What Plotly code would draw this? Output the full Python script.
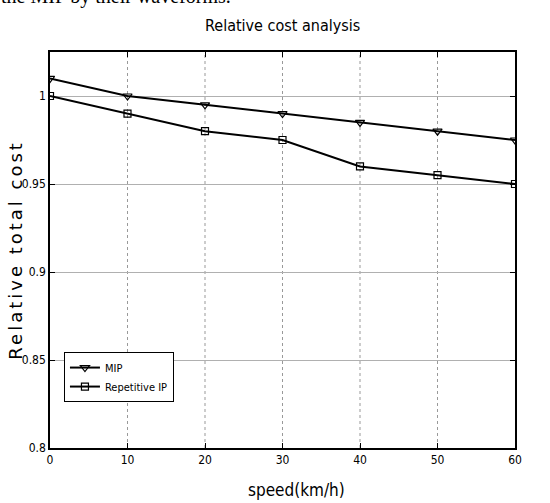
import plotly.graph_objects as go

speed = [0, 10, 20, 30, 40, 50, 60]
mip = [1.01, 1.0, 0.995, 0.99, 0.985, 0.98, 0.975]
rep_ip = [1.0, 0.99, 0.98, 0.975, 0.96, 0.955, 0.95]
x_ticks = [0, 10, 20, 30, 40, 50, 60]
y_ticks = [0.8, 0.85, 0.9, 0.95, 1.0]
y_tick_text = ["0.8", "0.85", "0.9", "0.95", "1"]

NARROW = "Liberation Sans Narrow, Arial Narrow, DejaVu Sans Condensed, sans-serif"
WIDE = "DejaVu Sans, Verdana, sans-serif"

fig = go.Figure()
fig.add_trace(go.Scatter(
    x=speed, y=mip, name="MIP", mode="lines+markers",
    line=dict(color="black", width=2),
    marker=dict(symbol="triangle-down-open", size=8, color="black", line=dict(width=1.2)),
))
fig.add_trace(go.Scatter(
    x=speed, y=rep_ip, name="Repetitive IP", mode="lines+markers",
    line=dict(color="black", width=2),
    marker=dict(symbol="square-open", size=7, color="black", line=dict(width=1.2)),
))

# vertical dotted grid lines
for xv in x_ticks[1:-1]:
    fig.add_shape(type="line", xref="x", yref="paper", x0=xv, x1=xv, y0=0, y1=1,
                  line=dict(color="#999999", width=1, dash="dot"), layer="below")

fig.update_layout(
    width=550, height=503,
    margin=dict(l=50, r=35, t=52, b=55, autoexpand=False),
    paper_bgcolor="white", plot_bgcolor="white",
    showlegend=True,
    legend=dict(x=0.03, y=0.116, xanchor="left", yanchor="bottom",
                bordercolor="black", borderwidth=1, bgcolor="white",
                font=dict(family=NARROW, size=11, color="black"),
                tracegroupgap=0, itemwidth=30),
    xaxis=dict(range=[0, 60], tickvals=x_ticks, showgrid=False, zeroline=False,
               showline=True, linecolor="black", linewidth=1.5, mirror="ticks",
               ticks="inside", ticklen=5, tickcolor="black", automargin=False,
               tickfont=dict(family=NARROW, size=12, color="black")),
    yaxis=dict(range=[0.8, 1.025], tickvals=y_ticks, ticktext=y_tick_text,
               showgrid=True, gridcolor="#b0b0b0", gridwidth=1, zeroline=False,
               showline=True, linecolor="black", linewidth=1.5, mirror="ticks",
               ticks="inside", ticklen=5, tickcolor="black", automargin=False,
               tickfont=dict(family=NARROW, size=12, color="black")),
    font=dict(color="black"),
)

# titles as annotations (pixel-matched placement)
fig.add_annotation(text="Relative cost analysis", xref="paper", yref="paper",
                   x=0.50, y=1.067, xanchor="center", yanchor="middle", showarrow=False,
                   font=dict(family=NARROW, size=16, color="black"))
fig.add_annotation(text="speed(km/h)", xref="paper", yref="paper",
                   x=0.53, y=-0.105, xanchor="center", yanchor="middle", showarrow=False,
                   font=dict(family=NARROW, size=17, color="black"))
fig.add_annotation(text="Relative total cost", xref="paper", yref="paper",
                   x=-0.075, y=0.50, xanchor="center", yanchor="middle", showarrow=False,
                   textangle=-90,
                   font=dict(family=WIDE, size=18, color="black"))

fig.add_annotation(text="the MIP by their waveforms.", xref="paper", yref="paper",
                   x=-0.11, y=1.141, xanchor="left", yanchor="middle", showarrow=False,
                   font=dict(family="Liberation Serif, Times New Roman, serif", size=20, color="black"))

post = """
document.body.style.margin='0';document.body.style.padding='0';
document.querySelectorAll('text.annotation-text').forEach(function(t){
  if (t.textContent === 'Relative total cost') { t.style.letterSpacing = '3px'; }
});
"""
fig.write_html("out.html", config={"displayModeBar": False}, post_script=post)
